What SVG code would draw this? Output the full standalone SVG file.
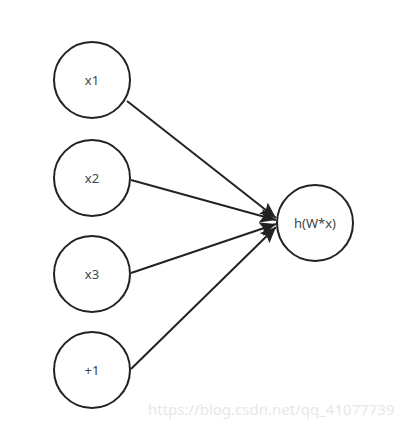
<svg xmlns="http://www.w3.org/2000/svg" width="402" height="427" viewBox="0 0 402 427">
<style>
.node{fill:#fff;stroke:#222;stroke-width:2}
.lbl{font-family:"Noto Sans","Open Sans",sans-serif;font-size:13px;fill:#444;text-anchor:middle;dominant-baseline:central}
.edge{stroke:#222;stroke-width:2;fill:none;marker-end:url(#arr)}
.wm{font-family:"Noto Sans","Open Sans",sans-serif;font-size:15px;fill:#e8e8e8}
</style>
<defs>
<marker id="arr" viewBox="0 0 16 14" refX="16" refY="7" markerWidth="16" markerHeight="14" markerUnits="userSpaceOnUse" orient="auto">
<path d="M0,0 L16,7 L0,14 L3,7 Z" fill="#222"/>
</marker>
</defs>
<rect width="402" height="427" fill="#fff"/>
<g id="connectors">
<line class="edge" x1="127" y1="101" x2="276" y2="218"/>
<line class="edge" x1="131" y1="180" x2="276" y2="220"/>
<line class="edge" x1="131" y1="273" x2="276" y2="224"/>
<line class="edge" x1="131" y1="369" x2="276" y2="227"/>
</g>
<g id="n_x1"><circle class="node" cx="92" cy="80" r="38"/><text class="lbl" x="92" y="80">x1</text></g>
<g id="n_x2"><circle class="node" cx="92" cy="178" r="38"/><text class="lbl" x="92" y="178">x2</text></g>
<g id="n_x3"><circle class="node" cx="92" cy="274" r="38"/><text class="lbl" x="92" y="274">x3</text></g>
<g id="n_p1"><circle class="node" cx="92" cy="370" r="38"/><text class="lbl" x="92" y="370">+1</text></g>
<g id="n_h"><circle class="node" cx="315" cy="223" r="38"/><text class="lbl" x="315" y="223">h(W*x)</text></g>
<text class="wm" x="148" y="415">https://blog.csdn.net/qq_41077739</text>
</svg>
